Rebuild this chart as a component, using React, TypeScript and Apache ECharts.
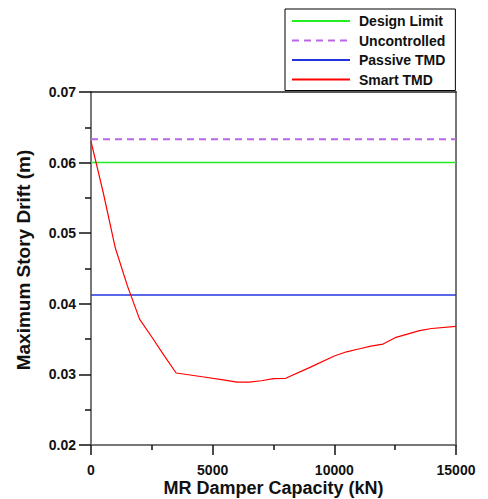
import React, { useEffect, useRef } from "react";
import * as echarts from "echarts";

const capacity = [0, 500, 1000, 1500, 2000, 2500, 3000, 3500, 4500, 5500, 6000, 6500, 7000, 7500, 8000, 9000, 10000, 10500, 11000, 11500, 12000, 12500, 13000, 13500, 14000, 15000];
const smartDrift = [0.063, 0.0558, 0.0479, 0.0425, 0.0378, 0.0353, 0.0327, 0.0302, 0.0297, 0.0292, 0.0289, 0.0289, 0.0291, 0.0294, 0.02945, 0.031, 0.0326, 0.0332, 0.0336, 0.034, 0.0343, 0.0352, 0.0357, 0.0362, 0.0365, 0.0368];
const xRange = [0, 15000];
const designLimit = 0.06;
const uncontrolled = 0.0633;
const passive = 0.04125;
const seriesNames = ["Design Limit", "Uncontrolled", "Passive TMD", "Smart TMD"];

const font = "'Liberation Sans', Arial, sans-serif";

export default function App() {
  const ref = useRef<HTMLDivElement>(null);
  useEffect(() => {
    if (!ref.current) return;
    const chart = echarts.init(ref.current, undefined, { renderer: "svg" });
    const flat = (v: number) => xRange.map((x) => [x, v]);
    chart.setOption({
      animation: false,
      backgroundColor: "#ffffff",
      textStyle: { fontFamily: font },
      grid: { left: 91, right: 32, top: 92, bottom: 54, containLabel: false, outerBoundsMode: "none" },
      legend: {
        orient: "vertical",
        left: 285,
        top: 9,
        padding: [5, 10, 4, 6],
        itemWidth: 58,
        itemHeight: 14,
        itemGap: 5.5,
        borderColor: "#000",
        borderWidth: 1,
        backgroundColor: "#fff",
        itemStyle: { opacity: 0 },
        textStyle: { fontFamily: font, fontWeight: "bold", fontSize: 14, color: "#111", padding: [0, 0, 0, 4] },
        data: seriesNames,
      },
      xAxis: [
        {
          type: "value",
          min: 0,
          max: 15000,
          interval: 5000,
          name: "MR Damper Capacity (kN)",
          nameLocation: "middle",
          nameGap: 34,
          nameMoveOverlap: false,
          nameTextStyle: { fontFamily: font, fontWeight: "bold", fontSize: 18, color: "#111" },
          axisLine: { show: true, onZero: false, lineStyle: { color: "#777", width: 2 } },
          axisTick: { show: true, length: 10, inside: false, lineStyle: { color: "#111", width: 1.5 } },
          minorTick: { show: true, splitNumber: 2, length: 5, lineStyle: { color: "#111", width: 1.5 } },
          axisLabel: { margin: 18, fontFamily: font, fontWeight: "bold", fontSize: 14, color: "#111", formatter: (v: number) => String(v) },
          splitLine: { show: false },
        },
        {
          type: "value",
          position: "top",
          min: 0,
          max: 15000,
          axisLine: { show: true, onZero: false, lineStyle: { color: "#222", width: 1.5 } },
          axisTick: { show: false },
          axisLabel: { show: false },
          splitLine: { show: false },
        },
      ],
      yAxis: [
        {
          type: "value",
          min: 0.02,
          max: 0.07,
          interval: 0.01,
          name: "Maximum Story Drift (m)",
          nameLocation: "middle",
          nameGap: 58,
          nameMoveOverlap: false,
          nameTextStyle: { fontFamily: font, fontWeight: "bold", fontSize: 19, color: "#111", padding: [0, 0, 0, 17] },
          axisLine: { show: true, onZero: false, lineStyle: { color: "#777", width: 2 } },
          axisTick: { show: true, length: 12, lineStyle: { color: "#111", width: 1.5 } },
          minorTick: { show: true, splitNumber: 2, length: 6, lineStyle: { color: "#111", width: 1.5 } },
          axisLabel: { margin: 15, fontFamily: font, fontWeight: "bold", fontSize: 14, color: "#111", formatter: (v: number) => v.toFixed(2) },
          splitLine: { show: false },
        },
        {
          type: "value",
          position: "right",
          min: 0.02,
          max: 0.07,
          axisLine: { show: true, onZero: false, lineStyle: { color: "#777", width: 2 } },
          axisTick: { show: false },
          axisLabel: { show: false },
          splitLine: { show: false },
        },
      ],
      series: [
        {
          name: "Design Limit",
          type: "line",
          data: flat(designLimit),
          symbol: "none",
          lineStyle: { color: "#22ee22", width: 1.5 },
          itemStyle: { color: "#22ee22" },
        },
        {
          name: "Uncontrolled",
          type: "line",
          data: flat(uncontrolled),
          symbol: "none",
          lineStyle: { color: "#bb66e8", width: 2, type: [7, 5] },
          itemStyle: { color: "#bb66e8" },
        },
        {
          name: "Passive TMD",
          type: "line",
          data: flat(passive),
          symbol: "none",
          lineStyle: { color: "#2233dd", width: 1.3 },
          itemStyle: { color: "#2233dd" },
        },
        {
          name: "Smart TMD",
          type: "line",
          data: capacity.map((x, i) => [x, smartDrift[i]]),
          symbol: "none",
          lineStyle: { color: "#ff0000", width: 1.2 },
          itemStyle: { color: "#ff0000" },
        },
      ],
    });
    return () => chart.dispose();
  }, []);
  return <div ref={ref} style={{ width: 488, height: 499, position: "absolute", left: 0, top: 0 }} />;
}
